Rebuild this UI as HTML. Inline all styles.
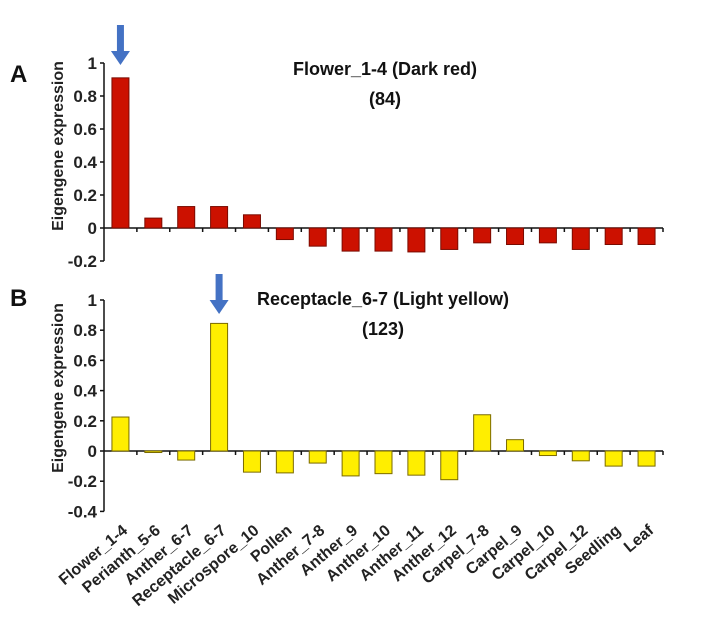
<!DOCTYPE html>
<html><head><meta charset="utf-8"><style>
body{margin:0;background:#fff;}
svg{display:block;font-family:"Liberation Sans",Arial,sans-serif;font-weight:bold;}
</style></head><body>
<svg id="chart" width="720" height="635" viewBox="0 0 720 635"></svg>
<script>
const categories=["Flower_1-4","Perianth_5-6","Anther_6-7","Receptacle_6-7","Microspore_10","Pollen","Anther_7-8","Anther_9","Anther_10","Anther_11","Anther_12","Carpel_7-8","Carpel_9","Carpel_10","Carpel_12","Seedling","Leaf"];
const valuesA=[0.91,0.06,0.13,0.13,0.08,-0.07,-0.11,-0.14,-0.14,-0.145,-0.13,-0.09,-0.1,-0.09,-0.13,-0.1,-0.1];
const valuesB=[0.225,-0.01,-0.06,0.845,-0.14,-0.145,-0.08,-0.165,-0.15,-0.16,-0.19,0.24,0.075,-0.03,-0.065,-0.1,-0.1];
const ticksA=["1","0.8","0.6","0.4","0.2","0","-0.2"];
const ticksB=["1","0.8","0.6","0.4","0.2","0","-0.2","-0.4"];
const NS="http://www.w3.org/2000/svg";
const svg=document.getElementById('chart');
function mk(tag,attrs,parent){const e=document.createElementNS(NS,tag);for(const k in attrs)e.setAttribute(k,attrs[k]);(parent||svg).appendChild(e);return e;}
const x0=104,x1=663,step=(x1-x0)/categories.length,bw=17;
function xc(i){return x0+step*(i+0.5);}
function panel(p){
  const g=mk('g',{});
  
  
  const y=v=>p.y0-v*p.scale;
  const ymin=+p.ticks[p.ticks.length-1];
  mk('line',{x1:x0,x2:x0,y1:y(1),y2:y(ymin),stroke:'#111','stroke-width':1.5},g);
  p.ticks.forEach(t=>{
    const v=+t;
    mk('line',{x1:x0-4,x2:x0,y1:y(v),y2:y(v),stroke:'#111','stroke-width':1.5},g);
    const tx=mk('text',{x:x0-7,y:y(v)+6,'text-anchor':'end','font-size':17,fill:'#222'},g);
    tx.textContent=t;
    
    
  });
  mk('line',{x1:x0,x2:x1,y1:y(0),y2:y(0),stroke:'#111','stroke-width':1.5},g);
  for(let i=1;i<=categories.length;i++)mk('line',{x1:x0+step*i,x2:x0+step*i,y1:y(0),y2:y(0)+4,stroke:'#111','stroke-width':1.5},g);
  p.values.forEach((v,i)=>{
    const r=mk('rect',{x:xc(i)-bw/2,y:Math.min(y(v),y(0)),width:bw,height:Math.max(1,Math.abs(y(v)-y(0))),fill:p.fill,stroke:p.stroke,'stroke-width':1},g);
    
    
  });
  const yl=mk('text',{transform:`translate(${p.ylx},${p.yly}) rotate(-90)`,'text-anchor':'middle','font-size':16,fill:'#222'},g);
  yl.textContent='Eigengene expression';
  
  
  const L=mk('text',{x:10,y:p.ly,'font-size':24,fill:'#111'},g);
  L.textContent=p.letter;
  
  
  const t1=mk('text',{x:p.tx,y:p.ty,'text-anchor':'middle','font-size':18,fill:'#111'},g);
  t1.textContent=p.title;
  
  
  const t2=mk('text',{x:p.tx,y:p.ty+30,'text-anchor':'middle','font-size':18,fill:'#111'},g);
  t2.textContent=p.count;
  
  
  const ax=xc(p.arrowIdx);
  const ar=mk('path',{d:`M${ax-3.5} ${p.arrowY} h7 v26 h6 l-9.5 14 l-9.5 -14 h6 z`,fill:'#4472c4'},g);
  
  
}
panel({name:'panel-a',y0:228,scale:165,values:valuesA,ticks:ticksA,fill:'#cc1100',stroke:'#7a0a00',letter:'A',ly:82,title:'Flower_1-4 (Dark red)',count:'(84)',tx:385,ty:75,arrowIdx:0,arrowY:25,ylx:63,yly:146});
panel({name:'panel-b',y0:451,scale:151,values:valuesB,ticks:ticksB,fill:'#ffee00',stroke:'#7a6a00',letter:'B',ly:306,title:'Receptacle_6-7 (Light yellow)',count:'(123)',tx:383,ty:305,arrowIdx:3,arrowY:274,ylx:63,yly:388});
categories.forEach((c,i)=>{
  const t=mk('text',{transform:`translate(${xc(i)+8},532) rotate(-40)`,'text-anchor':'end','font-size':16,fill:'#222'});
  t.textContent=c;
  
  
});
</script>
</body></html>
